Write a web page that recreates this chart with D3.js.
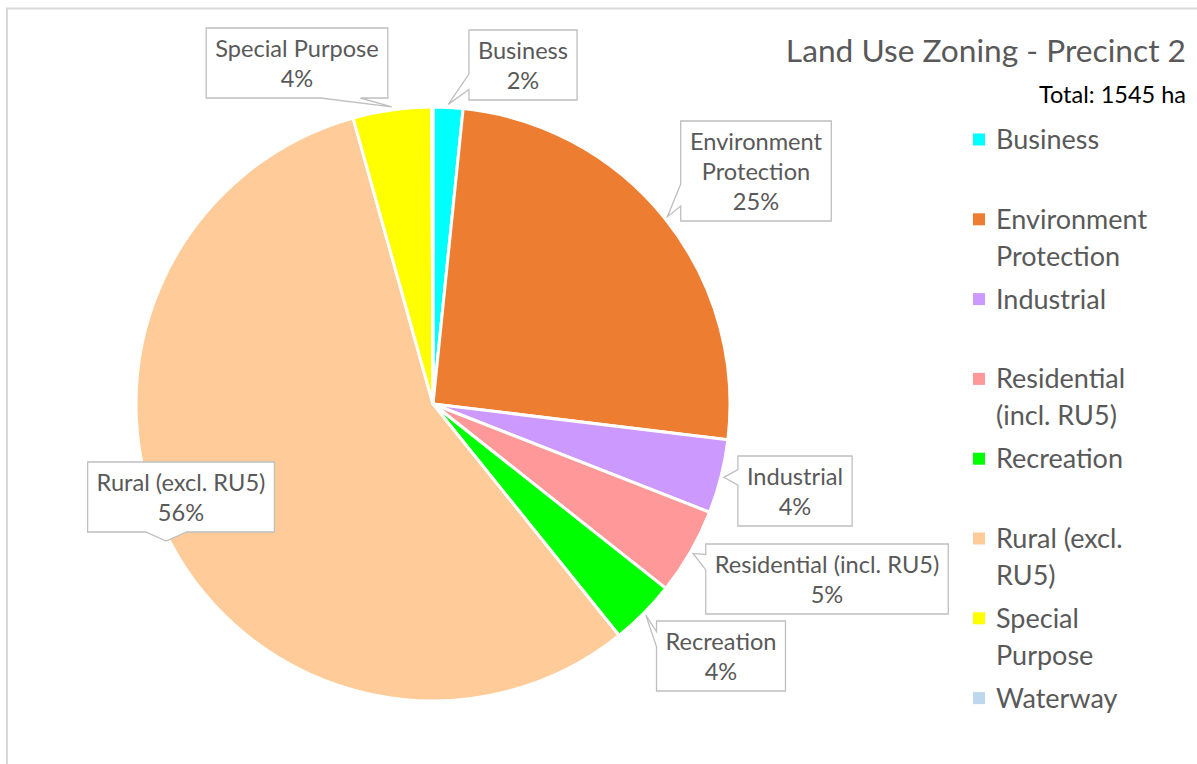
<!DOCTYPE html>
<html>
<head>
<meta charset="utf-8">
<script src="https://cdn.jsdelivr.net/npm/d3@7"></script>
<style>
  body { margin: 0; background: #fff; }
  text { font-family: Lato, "Open Sans", sans-serif; }
</style>
</head>
<body>
<div id="chart"></div>
<script>
// land use zoning, precinct 2 (hectares)
const categories = ["Business", "Environment Protection", "Industrial", "Residential (incl. RU5)",
    "Recreation", "Rural (excl. RU5)", "Special Purpose", "Waterway"];
const areas = [25, 391, 62, 73, 55, 872, 66, 1];
const colors = ["#00FFFF", "#ED7D31", "#CC99FF", "#FF9999", "#00FF00", "#FFCC99", "#FFFF00", "#BDD7EE"];
const totalHa = 1545;

// where each callout box sits (centre), null = no label
const calloutCenters = [[523, 65], [756, 171], [795, 491], [827, 579], [721, 656], [181, 497], [297, 63], null];
const calloutBreaks = {"Environment Protection": ["Environment", "Protection"]};

const width = 1197, height = 764;
const cx = 433, cy = 404, radius = 297;

const svg = d3.select("#chart").append("svg")
    .attr("width", width)
    .attr("height", height);

// chart area border
svg.append("rect")
    .attr("x", 7).attr("y", 8.5)
    .attr("width", 1400).attr("height", 1000)
    .attr("fill", "none")
    .attr("stroke", "#d9d9d9")
    .attr("stroke-width", 2);

const data = categories.map((c, i) => ({name: c, area: areas[i], color: colors[i], i: i}));

const pie = d3.pie().sort(null).value(d => d.area);
const arcs = pie(data);
const arc = d3.arc().innerRadius(0).outerRadius(radius);

const g = svg.append("g").attr("transform", `translate(${cx},${cy})`);

g.selectAll("path.slice")
    .data(arcs)
    .join("path")
    .attr("class", "slice")
    .attr("d", arc)
    .attr("fill", d => d.data.color)
    .attr("stroke", "#fff")
    .attr("stroke-width", 3)
    .attr("stroke-linejoin", "round");

// callouts
const fmtPct = v => Math.round(v / totalHa * 100) + "%";
const lineH = 30;

function calloutPath(x0, y0, x1, y1, tx, ty) {
    const w = x1 - x0, h = y1 - y0;
    const nx = (tx - (x0 + x1) / 2) / (w / 2), ny = (ty - (y0 + y1) / 2) / (h / 2);
    let side;
    if (Math.abs(nx) > Math.abs(ny)) side = nx < 0 ? "left" : "right";
    else side = ny < 0 ? "top" : "bottom";
    function base(e0, e1, c) {
        const L = e1 - e0, bw = 0.22 * L;
        const b0 = Math.max(e0 + 0.15 * L, Math.min(c - bw / 2, e1 - 0.15 * L - bw));
        return [b0, b0 + bw];
    }
    const p = d3.path();
    p.moveTo(x0, y0);
    if (side == "top") { const b = base(x0, x1, tx); p.lineTo(b[0], y0); p.lineTo(tx, ty); p.lineTo(b[1], y0); }
    p.lineTo(x1, y0);
    if (side == "right") { const b = base(y0, y1, ty); p.lineTo(x1, b[0]); p.lineTo(tx, ty); p.lineTo(x1, b[1]); }
    p.lineTo(x1, y1);
    if (side == "bottom") { const b = base(x0, x1, tx); p.lineTo(b[1], y1); p.lineTo(tx, ty); p.lineTo(b[0], y1); }
    p.lineTo(x0, y1);
    if (side == "left") { const b = base(y0, y1, ty); p.lineTo(x0, b[1]); p.lineTo(tx, ty); p.lineTo(x0, b[0]); }
    p.closePath();
    return p.toString();
}

arcs.forEach(a => {
    const pos = calloutCenters[a.data.i];
    if (!pos) return;
    const lines = (calloutBreaks[a.data.name] || [a.data.name]).concat([fmtPct(a.data.area)]);
    const lg = svg.append("g").attr("class", "callout");
    const box = lg.append("path");
    const txt = lg.append("text")
        .attr("text-anchor", "middle")
        .attr("fill", "#595959")
        .style("font-size", "23.6px");
    const top = pos[1] - lines.length * lineH / 2;
    lines.forEach((l, k) => {
        txt.append("tspan")
            .attr("x", pos[0])
            .attr("y", top + k * lineH + 23.5)
            .text(l);
    });
    const tw = txt.node().getBBox().width;
    const x0 = pos[0] - tw / 2 - 9, x1 = pos[0] + tw / 2 + 9;
    const y0 = top - 5, y1 = top + lines.length * lineH + 5;
    const mid = (a.startAngle + a.endAngle) / 2;
    const tx = cx + (radius + 3) * Math.sin(mid), ty = cy - (radius + 3) * Math.cos(mid);
    box.attr("d", calloutPath(x0, y0, x1, y1, tx, ty))
        .attr("fill", "#fff")
        .attr("stroke", "#bfbfbf")
        .attr("stroke-width", 1.3);
});

// title
svg.append("text")
    .attr("x", 1186).attr("y", 62)
    .attr("text-anchor", "end")
    .attr("fill", "#595959")
    .style("font-size", "31.7px")
    .text("Land Use Zoning - Precinct 2");

svg.append("text")
    .attr("x", 1186).attr("y", 103)
    .attr("text-anchor", "end")
    .attr("fill", "#000")
    .style("font-size", "23.5px")
    .text("Total: " + totalHa + " ha");

// legend
const legendX = 973, legendY = 149, legendStep = 79.8, legendLineH = 37, legendWrap = 172;

const legend = svg.append("g").attr("class", "legend");

data.forEach((d, i) => {
    const y = legendY + i * legendStep;
    legend.append("rect")
        .attr("x", legendX).attr("y", y - 15.5)
        .attr("width", 12).attr("height", 12)
        .attr("fill", d.color);
    const t = legend.append("text")
        .attr("fill", "#595959")
        .style("font-size", "27px");
    // greedy word wrap
    const words = d.name.split(" ");
    let line = [], n = 0;
    let ts = t.append("tspan").attr("x", legendX + 23).attr("y", y);
    words.forEach(w => {
        line.push(w);
        ts.text(line.join(" "));
        if (ts.node().getComputedTextLength() > legendWrap && line.length > 1) {
            line.pop();
            ts.text(line.join(" "));
            line = [w];
            n++;
            ts = t.append("tspan").attr("x", legendX + 23).attr("y", y + n * legendLineH).text(w);
        }
    });
});
</script>
</body>
</html>
